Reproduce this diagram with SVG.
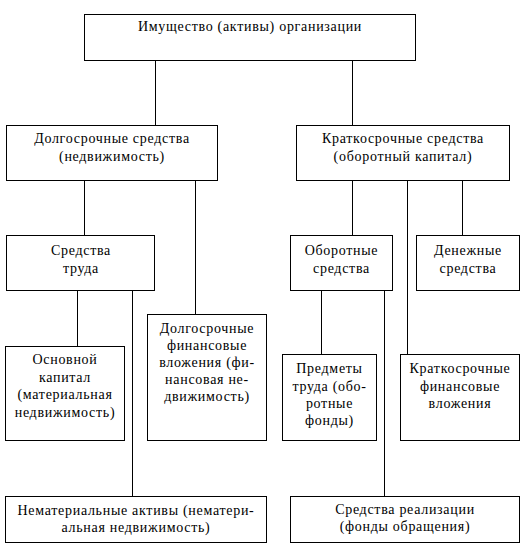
<svg xmlns="http://www.w3.org/2000/svg" width="524" height="548" viewBox="0 0 524 548">
<style>
rect{fill:#fff;stroke:#000;stroke-width:1}
line{stroke:#000;stroke-width:1}
text{font-family:"Liberation Serif","Times New Roman",serif;font-size:14px;letter-spacing:0.7px;fill:#000;text-anchor:middle}
</style>
<rect x="0" y="0" width="524" height="548" style="stroke:none"/>
<g id="connectors">
<line x1="155.5" y1="61" x2="155.5" y2="125.5"/>
<line x1="352.5" y1="61" x2="352.5" y2="125.5"/>
<line x1="84.5" y1="180.5" x2="84.5" y2="235.5"/>
<line x1="195.5" y1="180.5" x2="195.5" y2="314.5"/>
<line x1="352.5" y1="180.5" x2="352.5" y2="235.5"/>
<line x1="407.5" y1="180.5" x2="407.5" y2="354.5"/>
<line x1="462.5" y1="180.5" x2="462.5" y2="235.5"/>
<line x1="77.5" y1="290.5" x2="77.5" y2="346.5"/>
<line x1="132.5" y1="290.5" x2="132.5" y2="496.5"/>
<line x1="321.5" y1="290.5" x2="321.5" y2="354.5"/>
<line x1="384.5" y1="290.5" x2="384.5" y2="496.5"/>
</g>
<g id="n-root">
<rect x="84.5" y="14.5" width="331" height="46"/>
<text x="250" y="31">Имущество (активы) организации</text>
</g>
<g id="n-long">
<rect x="6.5" y="125.5" width="211" height="55"/>
<text x="112" y="143">Долгосрочные средства</text>
<text x="112" y="161">(недвижимость)</text>
</g>
<g id="n-short">
<rect x="296.5" y="125.5" width="213" height="55"/>
<text x="403" y="143">Краткосрочные средства</text>
<text x="403" y="161">(оборотный капитал)</text>
</g>
<g id="n-labor">
<rect x="6.5" y="235.5" width="148" height="55"/>
<text x="81" y="255">Средства</text>
<text x="81" y="273">труда</text>
</g>
<g id="n-current">
<rect x="290.5" y="235.5" width="102" height="55"/>
<text x="341.5" y="255">Оборотные</text>
<text x="341.5" y="273">средства</text>
</g>
<g id="n-cash">
<rect x="416.5" y="235.5" width="103" height="55"/>
<text x="468" y="255">Денежные</text>
<text x="468" y="273">средства</text>
</g>
<g id="n-ltfin">
<rect x="147.5" y="314.5" width="119" height="126"/>
<text x="207" y="333">Долгосрочные</text>
<text x="207" y="350">финансовые</text>
<text x="207" y="367">вложения (фи-</text>
<text x="207" y="384">нансовая не-</text>
<text x="207" y="401">движимость)</text>
</g>
<g id="n-fixed">
<rect x="5.5" y="346.5" width="119" height="94"/>
<text x="65" y="364">Основной</text>
<text x="65" y="382">капитал</text>
<text x="65" y="399">(материальная</text>
<text x="65" y="417">недвижимость)</text>
</g>
<g id="n-objects">
<rect x="282.5" y="354.5" width="94" height="86"/>
<text x="329.5" y="373">Предметы</text>
<text x="329.5" y="391">труда (обо-</text>
<text x="329.5" y="408">ротные</text>
<text x="329.5" y="425">фонды)</text>
</g>
<g id="n-stfin">
<rect x="400.5" y="354.5" width="119" height="86"/>
<text x="460" y="373">Краткосрочные</text>
<text x="460" y="391">финансовые</text>
<text x="460" y="408">вложения</text>
</g>
<g id="n-intangible">
<rect x="5.5" y="496.5" width="261" height="46"/>
<text x="136" y="515">Нематериальные активы (нематери-</text>
<text x="136" y="532">альная недвижимость)</text>
</g>
<g id="n-sales">
<rect x="290.5" y="496.5" width="229" height="46"/>
<text x="405" y="514">Средства реализации</text>
<text x="405" y="531">(фонды обращения)</text>
</g>
</svg>
